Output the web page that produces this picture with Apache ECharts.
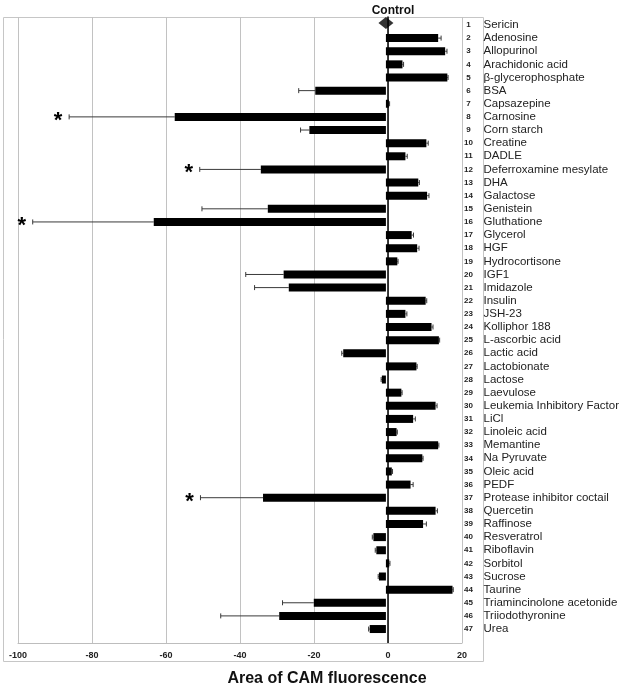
<!DOCTYPE html>
<html>
<head>
<meta charset="utf-8">
<script src="https://cdn.jsdelivr.net/npm/echarts@6/dist/echarts.min.js"></script>
<style>
  html, body { margin: 0; padding: 0; background: #fff; }
  #chart { width: 622px; height: 685px; }
</style>
</head>
<body>
<div id="chart"></div>
<script>
// compounds, top to bottom
const compounds = [
  "Sericin", "Adenosine", "Allopurinol", "Arachidonic acid", "β-glycerophosphate",
  "BSA", "Capsazepine", "Carnosine", "Corn starch", "Creatine", "DADLE",
  "Deferroxamine mesylate", "DHA", "Galactose", "Genistein", "Gluthatione",
  "Glycerol", "HGF", "Hydrocortisone", "IGF1", "Imidazole", "Insulin", "JSH-23",
  "Kolliphor 188", "L-ascorbic acid", "Lactic acid", "Lactobionate", "Lactose",
  "Laevulose", "Leukemia Inhibitory Factor", "LiCl", "Linoleic acid", "Memantine",
  "Na Pyruvate", "Oleic acid", "PEDF", "Protease inhibitor coctail", "Quercetin",
  "Raffinose", "Resveratrol", "Riboflavin", "Sorbitol", "Sucrose", "Taurine",
  "Triamincinolone acetonide", "Triiodothyronine", "Urea"
];

// area of CAM fluorescence, relative to control
const means = [
  0, 14.2, 16.1, 4.5, 16.7, -19.2, 0.8, -57.4, -20.8, 11.0, 5.3,
  -34.0, 8.8, 11.2, -32.1, -63.1, 7.0, 8.5, 3.1, -27.8, -26.4, 10.8, 5.3,
  12.4, 14.4, -11.6, 8.3, -1.1, 4.2, 13.5, 7.4, 2.9, 14.2,
  9.9, 1.6, 6.7, -33.4, 13.5, 10.1, -3.4, -2.6, 0.9, -1.9, 18.1,
  -19.6, -29.0, -4.4
];

const errors = [
  0, 0.8, 0.5, 0.3, 0.2, 4.5, 0.2, 28.7, 2.4, 0.5, 0.5,
  16.6, 0.3, 0.5, 17.9, 32.9, 0.5, 0.5, 0.2, 10.3, 9.3, 0.3, 0.4,
  0.4, 0.2, 0.4, 0.2, 0.2, 0.2, 0.4, 0.6, 0.2, 0.2,
  0.2, 0.2, 0.7, 17.0, 0.5, 0.9, 0.3, 0.3, 0.2, 0.2, 0.2,
  8.5, 15.9, 0.3
];

// numbers of the compounds marked with *
const significant = [8, 12, 16, 37];

const xMin = -100, xMax = 20, xStep = 20;

const font = "Liberation Sans, Arial, sans-serif";
const chart = echarts.init(document.getElementById("chart"));

function renderError(params, api) {
  const v = api.value(0);
  const e = api.value(1);
  const i = api.value(2);
  const dir = v < 0 ? -1 : 1;
  const start = api.coord([v, i]);
  const end = api.coord([v + dir * e, i]);
  const lineStyle = { stroke: "#3a3a3a", lineWidth: 1 };
  const children = [];
  if (e > 0) {
    children.push({
      type: "line",
      shape: { x1: start[0], y1: start[1], x2: end[0], y2: end[1] },
      style: lineStyle
    });
    children.push({
      type: "line",
      shape: { x1: end[0], y1: end[1] - 2.5, x2: end[0], y2: end[1] + 2.5 },
      style: lineStyle
    });
  }
  if (significant.includes(i + 1)) {
    children.push({
      type: "text",
      x: end[0] - 11,
      y: end[1] + 4,
      style: {
        text: "*",
        font: "bold 22px " + font,
        fill: "#000",
        align: "center",
        verticalAlign: "middle"
      }
    });
  }
  return { type: "group", children: children };
}

const option = {
  animation: false,
  title: [
    {
      text: "Control",
      left: 388,
      top: 0,
      textAlign: "center",
      textStyle: { fontFamily: font, fontSize: 12, fontWeight: "bold", color: "#111" }
    },
    {
      text: "Area of CAM fluorescence",
      left: 322,
      top: 666,
      textAlign: "center",
      textStyle: { fontFamily: font, fontSize: 16, fontWeight: "bold", color: "#111" }
    }
  ],
  graphic: [
    {
      type: "rect",
      z: -1,
      shape: { x: 3.5, y: 17.5, width: 480, height: 644 },
      style: { fill: "none", stroke: "#c6c6c6", lineWidth: 1 }
    }
  ],
  grid: [
    // bars
    { left: 18, right: 160, top: 18.4, height: 617.2 },
    // frame: gridlines, zero line and x axis
    { left: 18, right: 160, top: 17, height: 626 }
  ],
  xAxis: [
    { gridIndex: 0, type: "value", min: xMin, max: xMax, show: false },
    {
      gridIndex: 1,
      type: "value",
      min: xMin,
      max: xMax,
      interval: xStep,
      axisLine: { show: true, lineStyle: { color: "#bdbdbd", width: 1 } },
      axisTick: { show: false },
      splitLine: { show: true, lineStyle: { color: "#c2c2c2", width: 1 } },
      axisLabel: {
        margin: 8,
        fontFamily: font,
        fontSize: 9,
        fontWeight: "bold",
        color: "#222"
      }
    }
  ],
  yAxis: [
    {
      gridIndex: 0,
      type: "category",
      data: compounds,
      inverse: true,
      position: "right",
      axisLine: { show: false },
      axisTick: { show: false },
      axisLabel: {
        interval: 0,
        margin: 3,
        formatter: function (name, idx) {
          return "{n|" + (idx + 1) + "}{t|" + name + "}";
        },
        rich: {
          n: { width: 12, align: "right", fontFamily: font, fontSize: 8, fontWeight: "bold", color: "#222" },
          t: { padding: [0, 0, 0, 9], fontFamily: font, fontSize: 11.5, color: "#222" }
        }
      }
    },
    {
      gridIndex: 1,
      type: "value",
      min: 0,
      max: 1,
      axisLine: { show: true, onZero: true, lineStyle: { color: "#000", width: 1.5 } },
      axisTick: { show: false },
      axisLabel: { show: false },
      splitLine: { show: false }
    }
  ],
  series: [
    {
      type: "custom",
      xAxisIndex: 0,
      yAxisIndex: 0,
      renderItem: renderError,
      encode: { x: 0, y: 2 },
      data: means.map((v, i) => [v, errors[i], i]),
      z: 3
    },
    {
      type: "bar",
      xAxisIndex: 0,
      yAxisIndex: 0,
      data: means,
      barWidth: 8,
      itemStyle: { color: "#000" },
      z: 4
    },
    {
      type: "scatter",
      xAxisIndex: 0,
      yAxisIndex: 0,
      data: [[means[0], 0]],
      symbol: "diamond",
      symbolSize: [15, 12],
      symbolOffset: [0, -2],
      itemStyle: { color: "#000" },
      z: 6
    }
  ]
};

chart.setOption(option);
</script>
</body>
</html>
